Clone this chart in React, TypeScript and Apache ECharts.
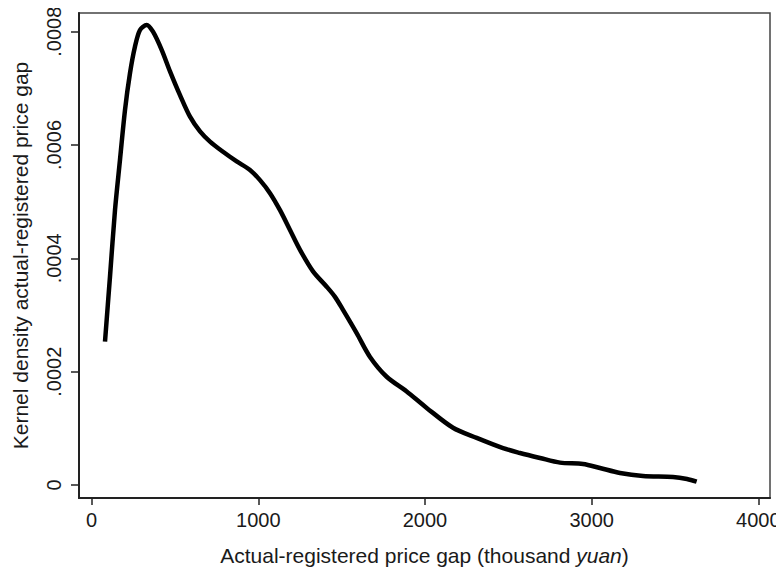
import React, { useEffect, useRef } from "react";
import * as echarts from "echarts";

const gapX: number[] = [
  80, 110, 140, 170, 200, 230, 260, 290, 330, 368, 420, 470, 530, 590, 650, 710,
  788, 870, 950, 1010, 1070, 1130, 1190, 1250, 1328, 1410, 1460, 1508, 1590, 1670,
  1770, 1890, 2010, 2168, 2310, 2468, 2570, 2690, 2810, 2948, 3050, 3170, 3308,
  3488, 3572, 3630,
];
const densityY: number[] = [
  0.000253, 0.000368, 0.000485, 0.000574, 0.000662, 0.000727, 0.000774, 0.000803,
  0.000812, 0.0008, 0.000768, 0.00073, 0.000688, 0.00065, 0.000624, 0.000606,
  0.000588, 0.000571, 0.000556, 0.000538, 0.000515, 0.000485, 0.00045, 0.000415,
  0.000377, 0.00035, 0.000332, 0.000309, 0.000268, 0.000226, 0.000191, 0.000165,
  0.000136, 0.000101, 0.000083, 0.000065, 0.0000565, 0.0000477, 0.0000394,
  0.0000371, 0.00003, 0.0000212, 0.0000159, 0.0000141, 0.0000106, 0.0000058,
];
const xTicks: number[] = [0, 1000, 2000, 3000, 4000];
const xTickLabels: string[] = ["0", "1000", "2000", "3000", "4000"];
const yTicks: number[] = [0, 0.0002, 0.0004, 0.0006, 0.0008];
const yTickLabels: string[] = ["0", ".0002", ".0004", ".0006", ".0008"];

const FONT = "'Liberation Sans', Arial, sans-serif";

export default function App() {
  const ref = useRef<HTMLDivElement>(null);
  useEffect(() => {
    if (!ref.current) return;
    const chart = echarts.init(ref.current, undefined, { renderer: "svg" });
    const data = gapX.map((x, i) => [x, densityY[i]]);
    chart.setOption({
      animation: false,
      backgroundColor: "#fff",
      grid: {
        left: 79,
        right: 14,
        top: 13,
        bottom: 78,
        show: true,
        borderColor: "#444",
        borderWidth: 1.5,
        containLabel: false,
      },
      xAxis: {
        type: "value",
        min: -76,
        max: 4070,
        name: "Actual-registered price gap (thousand {i|yuan})",
        nameLocation: "middle",
        nameGap: 47,
        nameTextStyle: {
          fontFamily: FONT,
          fontSize: 21,
          color: "#1a1a1a",
          rich: { i: { fontStyle: "italic", fontFamily: FONT, fontSize: 21, color: "#1a1a1a" } },
        },
        splitLine: { show: false },
        axisLine: { show: true, onZero: false, lineStyle: { color: "#222", width: 2 } },
        axisTick: {
          show: true,
          length: 7,
          customValues: xTicks,
          lineStyle: { color: "#222", width: 1.5 },
        },
        axisLabel: {
          customValues: xTicks,
          fontFamily: FONT,
          fontSize: 20,
          color: "#1a1a1a",
          margin: 12,
          formatter: (v: number) => {
            const idx = xTicks.findIndex((t) => Math.abs(t - v) < 1e-6);
            return idx >= 0 ? xTickLabels[idx] : "";
          },
        },
      },
      yAxis: {
        type: "value",
        min: -0.000023,
        max: 0.000833,
        name: "Kernel density actual-registered price gap",
        nameLocation: "middle",
        nameGap: 48,
        nameRotate: 90,
        nameTextStyle: { fontFamily: FONT, fontSize: 21, color: "#1a1a1a" },
        splitLine: { show: false },
        axisLine: { show: true, onZero: false, lineStyle: { color: "#222", width: 2 } },
        axisTick: {
          show: true,
          length: 8,
          customValues: yTicks,
          lineStyle: { color: "#222", width: 1.5 },
        },
        axisLabel: {
          customValues: yTicks,
          rotate: 90,
          fontFamily: FONT,
          fontSize: 20,
          color: "#1a1a1a",
          margin: 15,
          formatter: (v: number) => {
            const idx = yTicks.findIndex((t) => Math.abs(t - v) < 1e-9);
            return idx >= 0 ? yTickLabels[idx] : "";
          },
        },
      },
      series: [
        {
          type: "line",
          data,
          smooth: 0.3,
          showSymbol: false,
          lineStyle: { color: "#000", width: 4.5 },
        },
      ],
    });
    return () => chart.dispose();
  }, []);
  return <div ref={ref} style={{ width: 784, height: 576, margin: -8 }} />;
}
